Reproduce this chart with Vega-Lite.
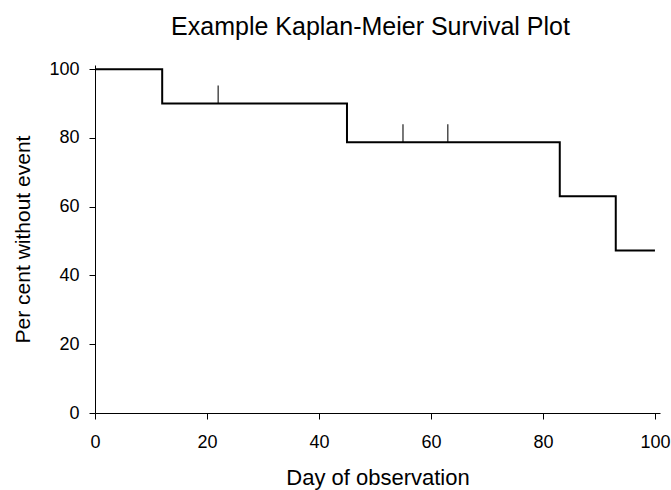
{
  "$schema": "https://vega.github.io/schema/vega-lite/v6.json",
  "width": 565,
  "height": 348,
  "autosize": "none",
  "padding": {"left": 95, "top": 65, "right": 11, "bottom": 77},
  "background": "white",
  "title": {
    "text": "Example Kaplan-Meier Survival Plot",
    "font": "Liberation Sans",
    "fontSize": 25,
    "fontWeight": "normal",
    "color": "black",
    "anchor": "middle",
    "dx": -7,
    "offset": 20
  },
  "config": {
    "view": {"stroke": null},
    "axis": {
      "grid": false,
      "domainColor": "black",
      "domainWidth": 1,
      "tickColor": "black",
      "tickSize": 6,
      "labelFlush": false,
      "labelFont": "Liberation Sans",
      "labelFontSize": 18,
      "labelColor": "black",
      "titleFont": "Liberation Sans",
      "titleFontSize": 22,
      "titleFontWeight": "normal",
      "titleColor": "black"
    }
  },
  "datasets": {
    "km": [
      {"day": 0, "pct": 100},
      {"day": 12, "pct": 90},
      {"day": 45, "pct": 78.75},
      {"day": 83, "pct": 63},
      {"day": 93, "pct": 47.25},
      {"day": 100, "pct": 47.25}
    ],
    "censor": [
      {"day": 22, "pct": 90},
      {"day": 55, "pct": 78.75},
      {"day": 63, "pct": 78.75}
    ]
  },
  "layer": [
    {
      "data": {"name": "km"},
      "mark": {"type": "line", "interpolate": "step-after", "color": "black", "strokeWidth": 2},
      "encoding": {
        "x": {
          "field": "day", "type": "quantitative",
          "scale": {"domain": [0, 100.9], "nice": false},
          "axis": {"values": [0, 20, 40, 60, 80, 100], "title": "Day of observation", "labelPadding": 14, "titlePadding": 16}
        },
        "y": {
          "field": "pct", "type": "quantitative",
          "scale": {"domain": [0, 101.2], "nice": false},
          "axis": {"values": [0, 20, 40, 60, 80, 100], "title": "Per cent without event", "titleFontSize": 21, "labelPadding": 10, "titlePadding": 15}
        }
      }
    },
    {
      "data": {"name": "censor"},
      "mark": {"type": "tick", "orient": "vertical", "color": "black", "thickness": 1.5, "size": 18, "yOffset": -9},
      "encoding": {
        "x": {"field": "day", "type": "quantitative"},
        "y": {"field": "pct", "type": "quantitative"}
      }
    }
  ]
}
